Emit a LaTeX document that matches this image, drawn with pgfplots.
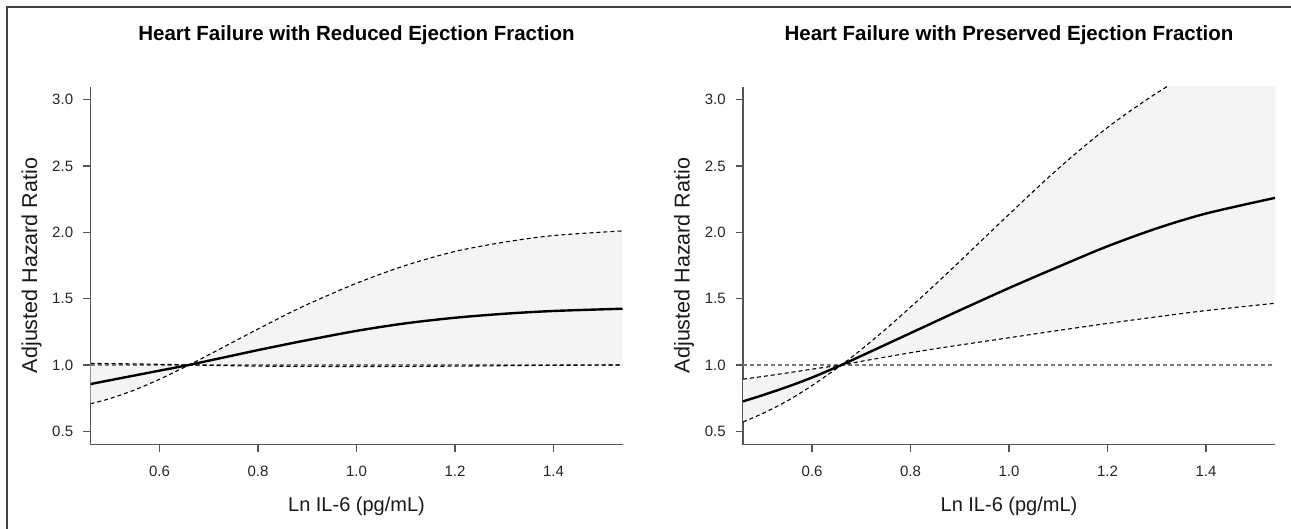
\documentclass[border=0pt]{standalone}
\usepackage{fontspec}
\setmainfont{Liberation Sans}
\usepackage{pgfplots}
\usepackage{pgfplotstable}
\pgfplotsset{compat=1.18}
\usepgfplotslibrary{fillbetween}

\definecolor{axisgray}{HTML}{555555}
\definecolor{bandgray}{HTML}{F4F4F4}
\definecolor{refgray}{HTML}{777777}

% HFrEF: fitted HR and the two confidence bounds
\pgfplotstableread{
x     fit    lo     hi
0.46  0.856  0.707  1.012
0.50  0.885  0.747  1.010
0.55  0.921  0.812  1.008
0.60  0.957  0.892  1.005
0.66  1.000  1.000  1.000
0.70  1.032  1.076  0.997
0.75  1.072  1.174  0.994
0.80  1.112  1.271  0.991
0.85  1.150  1.366  0.990
0.90  1.187  1.456  0.989
1.00  1.257  1.616  0.988
1.10  1.314  1.751  0.989
1.20  1.356  1.856  0.991
1.30  1.386  1.926  0.994
1.40  1.407  1.976  0.997
1.54  1.424  2.011  1.000
}\hfref

% HFpEF
\pgfplotstableread{
x     fit    lo     hi
0.46  0.725  0.893  0.570
0.50  0.772  0.913  0.634
0.55  0.835  0.940  0.729
0.60  0.905  0.968  0.844
0.66  1.000  1.000  1.000
0.70  1.068  1.027  1.116
0.75  1.154  1.060  1.271
0.80  1.240  1.092  1.436
0.85  1.326  1.122  1.606
0.90  1.412  1.150  1.781
1.00  1.580  1.205  2.136
1.10  1.740  1.260  2.481
1.20  1.895  1.313  2.791
1.30  2.030  1.363  3.051
1.40  2.142  1.410  3.271
1.54  2.260  1.465  3.537
}\hfpef

\pgfplotsset{
  hrpanel/.style={
    scale only axis, width=532pt, height=358pt,
    xmin=0.46, xmax=1.54, ymin=0.4, ymax=3.1,
    axis lines*=left,
    axis line style={axisgray, line width=1.4pt},
    tick style={axisgray, line width=1.2pt},
    tick align=inside, major tick length=-7pt,
    xtick={0.6,0.8,1.0,1.2,1.4},
    ytick={0.5,1.0,1.5,2.0,2.5,3.0},
    /pgf/number format/assume math mode=true,
    /pgf/number format/fixed,
    /pgf/number format/fixed zerofill,
    /pgf/number format/precision=1,
    ticklabel style={font=\fontsize{15}{17}\selectfont, text=black!85},
    xticklabel style={anchor=base, inner sep=0pt, yshift=-32.2pt},
    yticklabel style={anchor=east, inner sep=0pt, xshift=-17.2pt},
    label style={font=\fontsize{20}{24}\selectfont, text=black!90},
    title style={font=\fontsize{20.5}{24}\selectfont\bfseries,
      at={(axis description cs:0.5,1.112)}, anchor=base},
    xlabel style={at={(axis description cs:0.5,-0.1877)}, anchor=base},
    ylabel style={at={(axis description cs:-0.1005,0.5)}, anchor=base,
      font=\fontsize{21.5}{24}\selectfont},
    xlabel={Ln IL-6 (pg/mL)},
    ylabel={Adjusted Hazard Ratio},
  },
  ci/.style={black, line width=1.1pt, dash pattern=on 4pt off 3pt, smooth},
  fitline/.style={black, line width=2.4pt, smooth},
  refline/.style={refgray, line width=1.4pt, dash pattern=on 4pt off 3pt},
}

\begin{document}
\begin{tikzpicture}
\begin{axis}[hrpanel, at={(90.5pt,83.5pt)}, anchor=south west,
  title={Heart Failure with Reduced Ejection Fraction}]
\addplot[draw=none, smooth, name path=lo] table[x=x, y=lo] {\hfref};
\addplot[draw=none, smooth, name path=hi] table[x=x, y=hi] {\hfref};
\addplot[bandgray, draw=none] fill between[of=lo and hi];
\addplot[refline] coordinates {(0.46,1) (1.54,1)};
\addplot[ci] table[x=x, y=lo] {\hfref};
\addplot[ci] table[x=x, y=hi] {\hfref};
\addplot[fitline] table[x=x, y=fit] {\hfref};
\end{axis}

\begin{axis}[hrpanel, at={(743pt,83.5pt)}, anchor=south west,
  title={Heart Failure with Preserved Ejection Fraction}]
\addplot[draw=none, smooth, name path=lo] table[x=x, y=lo] {\hfpef};
\addplot[draw=none, smooth, name path=hi] table[x=x, y=hi] {\hfpef};
\addplot[bandgray, draw=none] fill between[of=lo and hi];
\addplot[refline] coordinates {(0.46,1) (1.54,1)};
\addplot[ci] table[x=x, y=lo] {\hfpef};
\addplot[ci] table[x=x, y=hi] {\hfpef};
\addplot[fitline] table[x=x, y=fit] {\hfpef};
\end{axis}

\pgfresetboundingbox
\useasboundingbox (0pt,0pt) rectangle (1291pt,528pt);
\draw[line width=2pt, black!75] (7.3pt,-10pt) -- (7.3pt,520.6pt) -- (1300pt,520.6pt);
\end{tikzpicture}
\end{document}
